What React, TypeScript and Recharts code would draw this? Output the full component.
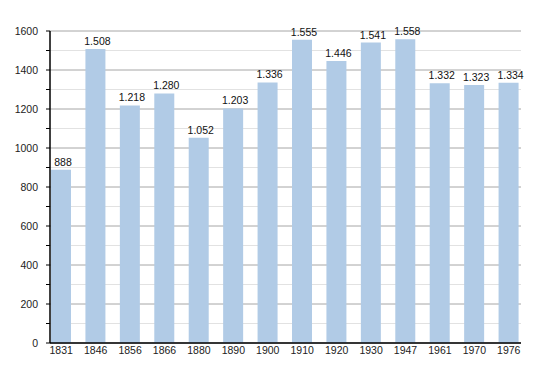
import { BarChart, Bar, XAxis, YAxis, CartesianGrid, LabelList } from "recharts";

const years = ["1831", "1846", "1856", "1866", "1880", "1890", "1900", "1910", "1920", "1930", "1947", "1961", "1970", "1976"];
const population = [888, 1508, 1218, 1280, 1052, 1203, 1336, 1555, 1446, 1541, 1558, 1332, 1323, 1334];
const yTicks = [0, 100, 200, 300, 400, 500, 600, 700, 800, 900, 1000, 1100, 1200, 1300, 1400, 1500, 1600];

const data = years.map((year, i) => ({ year, value: population[i] }));

// 1508 -> "1.508"
const fmt = (v: number) => {
    const s = String(v);
    return s.length > 3 ? s.slice(0, s.length - 3) + "." + s.slice(-3) : s;
};

const FONT = "'Liberation Sans', Arial, sans-serif";

const gridLine = (props: any) => {
    const major = props.index % 2 === 0;
    return (
        <line
            key={props.key}
            x1={props.x1}
            y1={props.y1}
            x2={props.x2}
            y2={props.y2}
            stroke={major ? "#a6a6a6" : "#e2e2e2"}
            strokeWidth={1}
        />
    );
};

export default function App() {
    return (
        <div style={{ position: "absolute", left: 0, top: 0, background: "#fff" }}>
            <BarChart
                width={550}
                height={373}
                data={data}
                margin={{ top: 31, right: 29, bottom: 0, left: 0 }}
            >
                <CartesianGrid vertical={false} horizontal={gridLine} />
                <XAxis
                    dataKey="year"
                    height={30}
                    padding={{ left: -6, right: -5 }}
                    tickLine={false}
                    tickSize={0}
                    tickMargin={4}
                    axisLine={{ stroke: "#000", strokeWidth: 1.5 }}
                    tick={{ fill: "#222", fontSize: 10.5, fontFamily: FONT }}
                    interval={0}
                />
                <YAxis
                    width={50}
                    domain={[0, 1600]}
                    ticks={yTicks}
                    interval={0}
                    tickSize={4}
                    tickMargin={8}
                    tickFormatter={(v: number) => (v % 200 === 0 ? String(v) : "")}
                    tickLine={{ stroke: "#000" }}
                    axisLine={{ stroke: "#000", strokeWidth: 1.5 }}
                    tick={{ fill: "#222", fontSize: 10.5, fontFamily: FONT }}
                />
                <Bar dataKey="value" fill="#b1cbe6" barSize={20} isAnimationActive={false}>
                    <LabelList
                        dataKey="value"
                        position="top"
                        offset={4}
                        dx={2}
                        formatter={(v: any) => fmt(Number(v))}
                        style={{ fill: "#111", fontSize: 10.5, fontFamily: FONT }}
                    />
                </Bar>
            </BarChart>
        </div>
    );
}
